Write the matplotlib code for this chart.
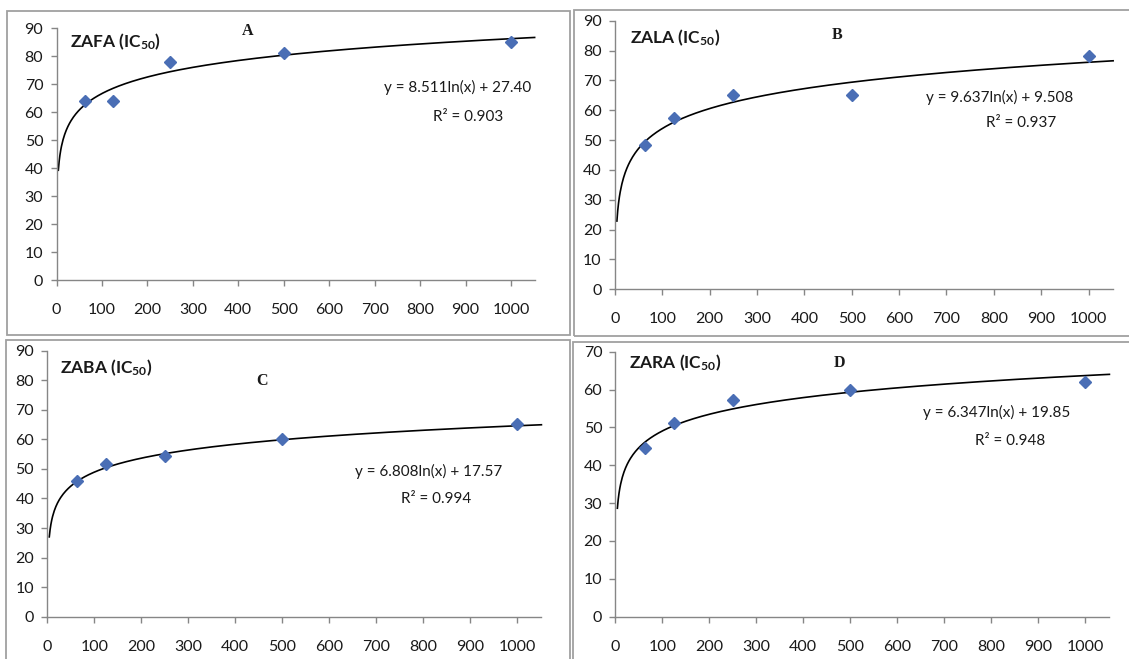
import numpy as np
import matplotlib
matplotlib.use("Agg")
import matplotlib.pyplot as plt
from matplotlib.patches import Rectangle

# ---------------- data ----------------
conc = [62.5, 125, 250, 500, 1000]
zafa = [64, 64, 78, 81, 85]
zala = [48.5, 57.3, 65, 65, 78.3]
zaba = [46, 51.6, 54.4, 60, 65.1]
zara = [44.5, 51.2, 57.2, 60, 62]

slopes = [8.511, 9.637, 6.808, 6.347]
intercepts = [27.40, 9.508, 17.57, 19.85]
r2_values = ["0.903", "0.937", "0.994", "0.948"]
eq_labels = ["y = 8.511ln(x) + 27.40", "y = 9.637ln(x) + 9.508",
             "y = 6.808ln(x) + 17.57", "y = 6.347ln(x) + 19.85"]
names = ["ZAFA", "ZALA", "ZABA", "ZARA"]
letters = ["A", "B", "C", "D"]
series = [zafa, zala, zaba, zara]
y_max = [90, 90, 90, 70]
x_ticks = list(range(0, 1001, 100))

# ---------------- style ----------------
plt.rcParams['font.family'] = ['Lato', 'DejaVu Sans']
plt.rcParams['mathtext.fontset'] = 'custom'
plt.rcParams['mathtext.default'] = 'regular'
plt.rcParams['mathtext.rm'] = 'Lato'
plt.rcParams['mathtext.bf'] = 'Lato:bold'

W, H = 1129, 659
fig = plt.figure(figsize=(W / 100, H / 100), dpi=100)
fig.patch.set_facecolor('white')

def fx(x):
    return x / W

def fy(y):
    return 1 - y / H

# layout in pixels: x of 0, x of 1000, y of 0, y of top
layout = [
    (56.5, 511.0, 280.0, 28.0),
    (615.0, 1088.5, 289.3, 20.7),
    (47.4, 517.0, 616.7, 350.7),
    (615.5, 1085.0, 616.7, 351.7),
]
xmax = 1052
title_pos = [(70, 42), (630, 38), (60, 368), (629, 363)]
letter_pos = [(248, 31), (837, 35), (262, 381), (839, 363)]
eq_pos = [(458, 87), (1000, 97), (429, 471), (997, 412)]
r2_pos = [(468, 117), (1021, 123), (436, 499), (1010, 441)]
boxes = [(7.4, 11, 569.7, 335), (573.5, 9.5, 1140, 336),
         (6, 340, 569.7, 680), (572.7, 341.7, 1140, 680)]

grey = '#868686'
marker_color = '#4A6EB5'
text_color = '#1a1a1a'

for i in range(4):
    x0, x1000, yb, yt = layout[i]
    unit = (x1000 - x0) / 1000
    right = x0 + xmax * unit
    ax = fig.add_axes([fx(x0), fy(yb), fx(right) - fx(x0), fy(yt) - fy(yb)])
    ax.set_xlim(0, xmax)
    ax.set_ylim(0, y_max[i])
    ax.set_facecolor('none')
    for s in ['top', 'right']:
        ax.spines[s].set_visible(False)
    for s in ['left', 'bottom']:
        ax.spines[s].set_color(grey)
        ax.spines[s].set_linewidth(1.0)
    ax.set_xticks(x_ticks)
    ax.set_yticks(np.arange(0, y_max[i] + 1, 10))
    ax.tick_params(axis='both', direction='out', length=4.5, width=1.0,
                   color=grey, labelsize=11.5, labelcolor=text_color)
    ax.tick_params(axis='x', pad=12)
    ax.tick_params(axis='y', pad=5)

    xs = np.linspace(4, xmax, 600)
    ax.plot(xs, slopes[i] * np.log(xs) + intercepts[i], color='black', lw=1.2,
            zorder=2, clip_on=False)
    ax.plot(conc, series[i], linestyle='none', marker='D', markersize=6,
            color=marker_color, zorder=3, clip_on=False)

    tx, ty = title_pos[i]
    fig.text(fx(tx), fy(ty), names[i] + " (IC$_{50}$)", fontsize=12.5,
             fontweight='bold', color=text_color, ha='left', va='center')
    lx, ly = letter_pos[i]
    fig.text(fx(lx), fy(ly), letters[i], fontsize=11.5, fontweight='bold',
             family='Liberation Serif', color=text_color, ha='center', va='center')
    ex, ey = eq_pos[i]
    fig.text(fx(ex), fy(ey), eq_labels[i], fontsize=11, color=text_color,
             ha='center', va='center')
    rx, ry = r2_pos[i]
    fig.text(fx(rx), fy(ry), "R\u00b2 = " + r2_values[i], fontsize=11,
             color=text_color, ha='center', va='center')

for (bx0, by0, bx1, by1) in boxes:
    rect = Rectangle((fx(bx0), fy(by1)), fx(bx1) - fx(bx0), fy(by0) - fy(by1),
                     transform=fig.transFigure, fill=False, edgecolor='#a0a0a0',
                     linewidth=1.3, zorder=0)
    fig.patches.append(rect)

fig.savefig("out.png", dpi=100, facecolor='white')
